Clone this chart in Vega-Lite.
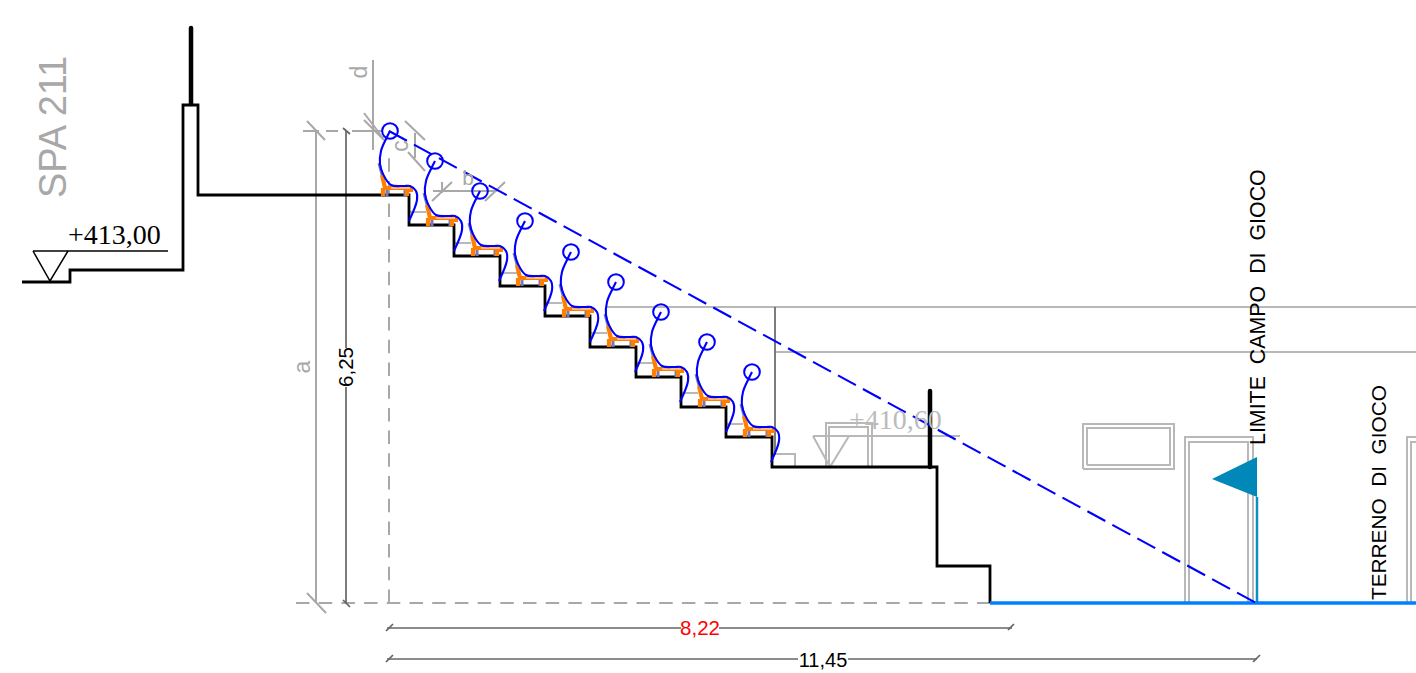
{
"$schema":"https://vega.github.io/schema/vega-lite/v6.json",
"width":1416,"height":673,"padding":0,
"autosize":{"type":"none"},
"background":"white",
"config":{"view":{"stroke":null}},
"datasets":{
"structure":[
{"s":"t","i":0,"x":-367,"y":321},{"s":"t","i":1,"x":-319,"y":321},{"s":"t","i":2,"x":-319,"y":333},{"s":"t","i":3,"x":-206,"y":333},{"s":"t","i":4,"x":-206,"y":498},{"s":"t","i":5,"x":-191,"y":498},{"s":"t","i":6,"x":-191,"y":408},{"s":"t","i":7,"x":20,"y":408},{"s":"t","i":8,"x":20,"y":378},{"s":"t","i":9,"x":65,"y":378},{"s":"t","i":10,"x":65,"y":347},{"s":"t","i":11,"x":111,"y":347},{"s":"t","i":12,"x":111,"y":317},{"s":"t","i":13,"x":156,"y":317},{"s":"t","i":14,"x":156,"y":287},{"s":"t","i":15,"x":201,"y":287},{"s":"t","i":16,"x":201,"y":256},{"s":"t","i":17,"x":247,"y":256},{"s":"t","i":18,"x":247,"y":226},{"s":"t","i":19,"x":292,"y":226},{"s":"t","i":20,"x":292,"y":196},{"s":"t","i":21,"x":337,"y":196},{"s":"t","i":22,"x":337,"y":166},{"s":"t","i":23,"x":383,"y":166},{"s":"t","i":24,"x":383,"y":136},{"s":"t","i":25,"x":548,"y":136},{"s":"t","i":26,"x":548,"y":37},{"s":"t","i":27,"x":601,"y":37},{"s":"t","i":28,"x":601,"y":0}
],
"level413":[
{"s":"l","i":0,"x":-356,"y":352},{"s":"l","i":1,"x":-221,"y":352},
{"s":"v","i":0,"x":-356,"y":352},{"s":"v","i":1,"x":-339,"y":322},{"s":"v","i":2,"x":-321,"y":352}
],
"posts":[
{"s":"a","i":0,"x":-198,"y":575},{"s":"a","i":1,"x":-198,"y":499},
{"s":"b","i":0,"x":541,"y":212},{"s":"b","i":1,"x":541,"y":136}
],
"dimGrey":[
{"s":"a","i":0,"x":-73,"y":472},{"s":"a","i":1,"x":-73,"y":0},
{"s":"a1","i":0,"x":-82,"y":482},{"s":"a1","i":1,"x":-64,"y":463},
{"s":"a2","i":0,"x":-82,"y":10},{"s":"a2","i":1,"x":-63,"y":-10},
{"s":"h1","i":0,"x":-86,"y":472},{"s":"h1","i":1,"x":-70,"y":472},
{"s":"h2","i":0,"x":-63,"y":472},{"s":"h2","i":1,"x":-51,"y":472},
{"s":"h3","i":0,"x":-37,"y":472},{"s":"h3","i":1,"x":-6,"y":472},
{"s":"d","i":0,"x":-16,"y":543},{"s":"d","i":1,"x":-16,"y":453},
{"s":"d1","i":0,"x":-25,"y":490},{"s":"d1","i":1,"x":-6,"y":465},
{"s":"d2","i":0,"x":-25,"y":483},{"s":"d2","i":1,"x":-5,"y":463},
{"s":"c1","i":0,"x":16,"y":482},{"s":"c1","i":1,"x":36,"y":463},
{"s":"c2","i":0,"x":19,"y":451},{"s":"c2","i":1,"x":36,"y":432},
{"s":"c","i":0,"x":26,"y":470},{"s":"c","i":1,"x":26,"y":445},
{"s":"b","i":0,"x":44,"y":412},{"s":"b","i":1,"x":108,"y":412},
{"s":"b1","i":0,"x":43,"y":402},{"s":"b1","i":1,"x":63,"y":421},
{"s":"b2","i":0,"x":96,"y":402},{"s":"b2","i":1,"x":116,"y":421},
{"s":"b3","i":0,"x":53,"y":421},{"s":"b3","i":1,"x":53,"y":410}
],
"dimDark":[
{"s":"u","i":0,"x":-43,"y":472},{"s":"u","i":1,"x":-43,"y":255},
{"s":"w","i":0,"x":-43,"y":216},{"s":"w","i":1,"x":-43,"y":0},
{"s":"t1","i":0,"x":-46,"y":3},{"s":"t1","i":1,"x":-39,"y":-4},
{"s":"t2","i":0,"x":-46,"y":475},{"s":"t2","i":1,"x":-39,"y":469},
{"s":"f","i":0,"x":386,"y":296},{"s":"f","i":1,"x":386,"y":148},
{"s":"m","i":0,"x":-2,"y":-25},{"s":"m","i":1,"x":292,"y":-25},
{"s":"mb","i":0,"x":330,"y":-25},{"s":"mb","i":1,"x":623,"y":-25},
{"s":"m1","i":0,"x":-3,"y":-28},{"s":"m1","i":1,"x":4,"y":-21},
{"s":"m2","i":0,"x":619,"y":-27},{"s":"m2","i":1,"x":625,"y":-21},
{"s":"n","i":0,"x":-2,"y":-56},{"s":"n","i":1,"x":409,"y":-56},
{"s":"o","i":0,"x":459,"y":-56},{"s":"o","i":1,"x":868,"y":-56},
{"s":"n1","i":0,"x":-3,"y":-59},{"s":"n1","i":1,"x":4,"y":-52},
{"s":"n2","i":0,"x":864,"y":-59},{"s":"n2","i":1,"x":871,"y":-52}
],
"lightGrey":[
{"s":"y1","i":0,"x":218,"y":296},{"s":"y1","i":1,"x":1027,"y":296},
{"s":"y2","i":0,"x":386,"y":251},{"s":"y2","i":1,"x":1027,"y":251},
{"s":"s1","i":0,"x":20,"y":391},{"s":"s1","i":1,"x":37,"y":391},
{"s":"s2","i":0,"x":65,"y":360},{"s":"s2","i":1,"x":82,"y":360},
{"s":"s3","i":0,"x":111,"y":330},{"s":"s3","i":1,"x":128,"y":330},
{"s":"s4","i":0,"x":156,"y":300},{"s":"s4","i":1,"x":173,"y":300},
{"s":"s5","i":0,"x":201,"y":270},{"s":"s5","i":1,"x":218,"y":270},
{"s":"s6","i":0,"x":247,"y":240},{"s":"s6","i":1,"x":264,"y":240},
{"s":"s7","i":0,"x":292,"y":210},{"s":"s7","i":1,"x":309,"y":210},
{"s":"s8","i":0,"x":337,"y":179},{"s":"s8","i":1,"x":354,"y":179},
{"s":"s9","i":0,"x":383,"y":149},{"s":"s9","i":1,"x":406,"y":149},{"s":"s9","i":2,"x":406,"y":136},
{"s":"lv","i":0,"x":424,"y":167},{"s":"lv","i":1,"x":571,"y":167},
{"s":"tr","i":0,"x":424,"y":167},{"s":"tr","i":1,"x":441,"y":136},{"s":"tr","i":2,"x":460,"y":167},
{"s":"da","i":0,"x":437,"y":136},{"s":"da","i":1,"x":437,"y":180},{"s":"da","i":2,"x":483,"y":180},{"s":"da","i":3,"x":483,"y":136},
{"s":"db","i":0,"x":440,"y":136},{"s":"db","i":1,"x":440,"y":176},{"s":"db","i":2,"x":479,"y":176},{"s":"db","i":3,"x":479,"y":136},
{"s":"wa","i":0,"x":694,"y":134},{"s":"wa","i":1,"x":694,"y":179},{"s":"wa","i":2,"x":785,"y":179},{"s":"wa","i":3,"x":785,"y":134},{"s":"wa","i":4,"x":694,"y":134},
{"s":"wb","i":0,"x":698,"y":138},{"s":"wb","i":1,"x":698,"y":175},{"s":"wb","i":2,"x":781,"y":175},{"s":"wb","i":3,"x":781,"y":138},{"s":"wb","i":4,"x":698,"y":138},
{"s":"pa","i":0,"x":796,"y":0},{"s":"pa","i":1,"x":796,"y":166},{"s":"pa","i":2,"x":864,"y":166},{"s":"pa","i":3,"x":864,"y":0},
{"s":"pb","i":0,"x":800,"y":0},{"s":"pb","i":1,"x":800,"y":161},{"s":"pb","i":2,"x":859,"y":161},{"s":"pb","i":3,"x":859,"y":0},
{"s":"qa","i":0,"x":1018,"y":0},{"s":"qa","i":1,"x":1018,"y":166},{"s":"qa","i":2,"x":1027,"y":166},
{"s":"qb","i":0,"x":1022,"y":0},{"s":"qb","i":1,"x":1022,"y":161},{"s":"qb","i":2,"x":1027,"y":161}
],
"datum":[
{"s":"h","i":0,"x":-93,"y":0},{"s":"h","i":1,"x":601,"y":0},
{"s":"v","i":0,"x":0,"y":0},{"s":"v","i":1,"x":0,"y":453}
],
"sight":[
{"s":"r","i":0,"x":0,"y":472},{"s":"r","i":1,"x":867,"y":0}
],
"pitch":[
{"s":"p","i":0,"x":601,"y":0},{"s":"p","i":1,"x":1027,"y":0}
],
"pole":[
{"s":"f","i":0,"x":868,"y":0},{"s":"f","i":1,"x":868,"y":106}
],
"flag":[
{"x":823,"y":124,"y2":124},{"x":868,"y":146,"y2":106}
],
"heads":[
{"x":1,"y":472},{"x":46,"y":442},{"x":91,"y":412},{"x":136,"y":382},{"x":182,"y":351},{"x":227,"y":321},{"x":272,"y":291},{"x":318,"y":261},{"x":363,"y":231}
],
"curves":[
{"s":"1","i":0,"x":1,"y":472},{"s":"1","i":1,"x":-3,"y":464},{"s":"1","i":2,"x":-8,"y":452},{"s":"1","i":3,"x":-9,"y":439},{"s":"1","i":4,"x":-6,"y":429},{"s":"1","i":5,"x":2,"y":418},{"s":"1","i":6,"x":15,"y":417},{"s":"1","i":7,"x":21,"y":417},{"s":"1","i":8,"x":27,"y":412},{"s":"1","i":9,"x":28,"y":403},{"s":"1","i":10,"x":20,"y":382},
{"s":"2","i":0,"x":46,"y":442},{"s":"2","i":1,"x":42,"y":434},{"s":"2","i":2,"x":37,"y":422},{"s":"2","i":3,"x":36,"y":409},{"s":"2","i":4,"x":39,"y":399},{"s":"2","i":5,"x":47,"y":388},{"s":"2","i":6,"x":60,"y":387},{"s":"2","i":7,"x":66,"y":387},{"s":"2","i":8,"x":72,"y":382},{"s":"2","i":9,"x":73,"y":373},{"s":"2","i":10,"x":65,"y":352},
{"s":"3","i":0,"x":91,"y":412},{"s":"3","i":1,"x":87,"y":404},{"s":"3","i":2,"x":82,"y":392},{"s":"3","i":3,"x":81,"y":379},{"s":"3","i":4,"x":84,"y":369},{"s":"3","i":5,"x":92,"y":358},{"s":"3","i":6,"x":105,"y":357},{"s":"3","i":7,"x":111,"y":357},{"s":"3","i":8,"x":117,"y":352},{"s":"3","i":9,"x":118,"y":343},{"s":"3","i":10,"x":110,"y":322},
{"s":"4","i":0,"x":136,"y":382},{"s":"4","i":1,"x":132,"y":374},{"s":"4","i":2,"x":127,"y":362},{"s":"4","i":3,"x":126,"y":349},{"s":"4","i":4,"x":129,"y":339},{"s":"4","i":5,"x":137,"y":328},{"s":"4","i":6,"x":150,"y":327},{"s":"4","i":7,"x":156,"y":327},{"s":"4","i":8,"x":162,"y":322},{"s":"4","i":9,"x":163,"y":313},{"s":"4","i":10,"x":155,"y":292},
{"s":"5","i":0,"x":182,"y":351},{"s":"5","i":1,"x":178,"y":343},{"s":"5","i":2,"x":173,"y":331},{"s":"5","i":3,"x":172,"y":318},{"s":"5","i":4,"x":175,"y":308},{"s":"5","i":5,"x":183,"y":297},{"s":"5","i":6,"x":196,"y":296},{"s":"5","i":7,"x":202,"y":296},{"s":"5","i":8,"x":208,"y":291},{"s":"5","i":9,"x":209,"y":282},{"s":"5","i":10,"x":201,"y":261},
{"s":"6","i":0,"x":227,"y":321},{"s":"6","i":1,"x":223,"y":313},{"s":"6","i":2,"x":218,"y":301},{"s":"6","i":3,"x":217,"y":288},{"s":"6","i":4,"x":220,"y":278},{"s":"6","i":5,"x":228,"y":267},{"s":"6","i":6,"x":241,"y":266},{"s":"6","i":7,"x":247,"y":266},{"s":"6","i":8,"x":253,"y":261},{"s":"6","i":9,"x":254,"y":252},{"s":"6","i":10,"x":246,"y":231},
{"s":"7","i":0,"x":272,"y":291},{"s":"7","i":1,"x":268,"y":283},{"s":"7","i":2,"x":263,"y":271},{"s":"7","i":3,"x":262,"y":258},{"s":"7","i":4,"x":265,"y":248},{"s":"7","i":5,"x":273,"y":237},{"s":"7","i":6,"x":286,"y":236},{"s":"7","i":7,"x":292,"y":236},{"s":"7","i":8,"x":298,"y":231},{"s":"7","i":9,"x":299,"y":222},{"s":"7","i":10,"x":291,"y":201},
{"s":"8","i":0,"x":318,"y":261},{"s":"8","i":1,"x":314,"y":253},{"s":"8","i":2,"x":309,"y":241},{"s":"8","i":3,"x":308,"y":228},{"s":"8","i":4,"x":311,"y":218},{"s":"8","i":5,"x":319,"y":207},{"s":"8","i":6,"x":332,"y":206},{"s":"8","i":7,"x":338,"y":206},{"s":"8","i":8,"x":344,"y":201},{"s":"8","i":9,"x":345,"y":192},{"s":"8","i":10,"x":337,"y":171},
{"s":"9","i":0,"x":363,"y":231},{"s":"9","i":1,"x":359,"y":223},{"s":"9","i":2,"x":354,"y":211},{"s":"9","i":3,"x":353,"y":198},{"s":"9","i":4,"x":356,"y":188},{"s":"9","i":5,"x":364,"y":177},{"s":"9","i":6,"x":377,"y":176},{"s":"9","i":7,"x":383,"y":176},{"s":"9","i":8,"x":389,"y":171},{"s":"9","i":9,"x":390,"y":162},{"s":"9","i":10,"x":382,"y":141}
],
"seatOrange":[
{"s":"1b","i":0,"x":-7,"y":428},{"s":"1b","i":1,"x":-4,"y":415},{"s":"1b","i":2,"x":22,"y":415},{"s":"1l","i":0,"x":-6,"y":415},{"s":"1l","i":1,"x":-6,"y":407},{"s":"1m","i":0,"x":18,"y":415},{"s":"1m","i":1,"x":18,"y":407},{"s":"1n","i":0,"x":22,"y":415},{"s":"1n","i":1,"x":22,"y":411},
{"s":"2b","i":0,"x":38,"y":398},{"s":"2b","i":1,"x":41,"y":385},{"s":"2b","i":2,"x":67,"y":385},{"s":"2l","i":0,"x":39,"y":385},{"s":"2l","i":1,"x":39,"y":377},{"s":"2m","i":0,"x":63,"y":385},{"s":"2m","i":1,"x":63,"y":377},{"s":"2n","i":0,"x":67,"y":385},{"s":"2n","i":1,"x":67,"y":381},
{"s":"3b","i":0,"x":83,"y":368},{"s":"3b","i":1,"x":86,"y":355},{"s":"3b","i":2,"x":112,"y":355},{"s":"3l","i":0,"x":84,"y":355},{"s":"3l","i":1,"x":84,"y":347},{"s":"3m","i":0,"x":108,"y":355},{"s":"3m","i":1,"x":108,"y":347},{"s":"3n","i":0,"x":112,"y":355},{"s":"3n","i":1,"x":112,"y":351},
{"s":"4b","i":0,"x":128,"y":338},{"s":"4b","i":1,"x":131,"y":325},{"s":"4b","i":2,"x":157,"y":325},{"s":"4l","i":0,"x":129,"y":325},{"s":"4l","i":1,"x":129,"y":317},{"s":"4m","i":0,"x":153,"y":325},{"s":"4m","i":1,"x":153,"y":317},{"s":"4n","i":0,"x":157,"y":325},{"s":"4n","i":1,"x":157,"y":321},
{"s":"5b","i":0,"x":174,"y":307},{"s":"5b","i":1,"x":177,"y":294},{"s":"5b","i":2,"x":203,"y":294},{"s":"5l","i":0,"x":175,"y":294},{"s":"5l","i":1,"x":175,"y":286},{"s":"5m","i":0,"x":199,"y":294},{"s":"5m","i":1,"x":199,"y":286},{"s":"5n","i":0,"x":203,"y":294},{"s":"5n","i":1,"x":203,"y":290},
{"s":"6b","i":0,"x":219,"y":277},{"s":"6b","i":1,"x":222,"y":264},{"s":"6b","i":2,"x":248,"y":264},{"s":"6l","i":0,"x":220,"y":264},{"s":"6l","i":1,"x":220,"y":256},{"s":"6m","i":0,"x":244,"y":264},{"s":"6m","i":1,"x":244,"y":256},{"s":"6n","i":0,"x":248,"y":264},{"s":"6n","i":1,"x":248,"y":260},
{"s":"7b","i":0,"x":264,"y":247},{"s":"7b","i":1,"x":267,"y":234},{"s":"7b","i":2,"x":293,"y":234},{"s":"7l","i":0,"x":265,"y":234},{"s":"7l","i":1,"x":265,"y":226},{"s":"7m","i":0,"x":289,"y":234},{"s":"7m","i":1,"x":289,"y":226},{"s":"7n","i":0,"x":293,"y":234},{"s":"7n","i":1,"x":293,"y":230},
{"s":"8b","i":0,"x":310,"y":217},{"s":"8b","i":1,"x":313,"y":204},{"s":"8b","i":2,"x":339,"y":204},{"s":"8l","i":0,"x":311,"y":204},{"s":"8l","i":1,"x":311,"y":196},{"s":"8m","i":0,"x":335,"y":204},{"s":"8m","i":1,"x":335,"y":196},{"s":"8n","i":0,"x":339,"y":204},{"s":"8n","i":1,"x":339,"y":200},
{"s":"9b","i":0,"x":355,"y":187},{"s":"9b","i":1,"x":358,"y":174},{"s":"9b","i":2,"x":384,"y":174},{"s":"9l","i":0,"x":356,"y":174},{"s":"9l","i":1,"x":356,"y":166},{"s":"9m","i":0,"x":380,"y":174},{"s":"9m","i":1,"x":380,"y":166},{"s":"9n","i":0,"x":384,"y":174},{"s":"9n","i":1,"x":384,"y":170}
],
"seatPurple":[
{"s":"1b","i":0,"x":-10,"y":440},{"s":"1b","i":1,"x":-6,"y":425},{"s":"1l","i":0,"x":-2,"y":416},{"s":"1l","i":1,"x":-2,"y":407},{"s":"1m","i":0,"x":16,"y":416},{"s":"1m","i":1,"x":16,"y":407},
{"s":"2b","i":0,"x":35,"y":410},{"s":"2b","i":1,"x":39,"y":395},{"s":"2l","i":0,"x":43,"y":386},{"s":"2l","i":1,"x":43,"y":377},{"s":"2m","i":0,"x":61,"y":386},{"s":"2m","i":1,"x":61,"y":377},
{"s":"3b","i":0,"x":80,"y":380},{"s":"3b","i":1,"x":84,"y":365},{"s":"3l","i":0,"x":88,"y":356},{"s":"3l","i":1,"x":88,"y":347},{"s":"3m","i":0,"x":106,"y":356},{"s":"3m","i":1,"x":106,"y":347},
{"s":"4b","i":0,"x":125,"y":350},{"s":"4b","i":1,"x":129,"y":335},{"s":"4l","i":0,"x":133,"y":326},{"s":"4l","i":1,"x":133,"y":317},{"s":"4m","i":0,"x":151,"y":326},{"s":"4m","i":1,"x":151,"y":317},
{"s":"5b","i":0,"x":171,"y":319},{"s":"5b","i":1,"x":175,"y":304},{"s":"5l","i":0,"x":179,"y":295},{"s":"5l","i":1,"x":179,"y":286},{"s":"5m","i":0,"x":197,"y":295},{"s":"5m","i":1,"x":197,"y":286},
{"s":"6b","i":0,"x":216,"y":289},{"s":"6b","i":1,"x":220,"y":274},{"s":"6l","i":0,"x":224,"y":265},{"s":"6l","i":1,"x":224,"y":256},{"s":"6m","i":0,"x":242,"y":265},{"s":"6m","i":1,"x":242,"y":256},
{"s":"7b","i":0,"x":261,"y":259},{"s":"7b","i":1,"x":265,"y":244},{"s":"7l","i":0,"x":269,"y":235},{"s":"7l","i":1,"x":269,"y":226},{"s":"7m","i":0,"x":287,"y":235},{"s":"7m","i":1,"x":287,"y":226},
{"s":"8b","i":0,"x":307,"y":229},{"s":"8b","i":1,"x":311,"y":214},{"s":"8l","i":0,"x":315,"y":205},{"s":"8l","i":1,"x":315,"y":196},{"s":"8m","i":0,"x":333,"y":205},{"s":"8m","i":1,"x":333,"y":196},
{"s":"9b","i":0,"x":352,"y":199},{"s":"9b","i":1,"x":356,"y":184},{"s":"9l","i":0,"x":360,"y":175},{"s":"9l","i":1,"x":360,"y":166},{"s":"9m","i":0,"x":378,"y":175},{"s":"9m","i":1,"x":378,"y":166}
],
"seatWhite":[
{"s":"1","i":0,"x":2,"y":415},{"s":"1","i":1,"x":21,"y":415},
{"s":"2","i":0,"x":47,"y":385},{"s":"2","i":1,"x":66,"y":385},
{"s":"3","i":0,"x":92,"y":355},{"s":"3","i":1,"x":111,"y":355},
{"s":"4","i":0,"x":137,"y":325},{"s":"4","i":1,"x":156,"y":325},
{"s":"5","i":0,"x":183,"y":294},{"s":"5","i":1,"x":202,"y":294},
{"s":"6","i":0,"x":228,"y":264},{"s":"6","i":1,"x":247,"y":264},
{"s":"7","i":0,"x":273,"y":234},{"s":"7","i":1,"x":292,"y":234},
{"s":"8","i":0,"x":319,"y":204},{"s":"8","i":1,"x":338,"y":204},
{"s":"9","i":0,"x":364,"y":174},{"s":"9","i":1,"x":383,"y":174}
]
},
"encoding":{
"x":{"field":"x","type":"quantitative","axis":null,"scale":{"domain":[-389,1027],"nice":false,"zero":false}},
"y":{"field":"y","type":"quantitative","axis":null,"scale":{"domain":[-70,603],"nice":false,"zero":false}}
},
"layer":[
{"data":{"name":"lightGrey"},"mark":{"type":"line","color":"#b8b8b8","strokeWidth":2},"encoding":{"detail":{"field":"s"},"order":{"field":"i","type":"quantitative"}}},
{"data":{"name":"dimGrey"},"mark":{"type":"line","color":"#a8a8a8","strokeWidth":2},"encoding":{"detail":{"field":"s"},"order":{"field":"i","type":"quantitative"}}},
{"data":{"name":"datum"},"mark":{"type":"line","color":"#a8a8a8","strokeWidth":2,"strokeDash":[13.5,9.2]},"encoding":{"detail":{"field":"s"},"order":{"field":"i","type":"quantitative"}}},
{"data":{"name":"dimDark"},"mark":{"type":"line","color":"#666666","strokeWidth":1.7},"encoding":{"detail":{"field":"s"},"order":{"field":"i","type":"quantitative"}}},
{"data":{"name":"level413"},"mark":{"type":"line","color":"#000000","strokeWidth":1.5},"encoding":{"detail":{"field":"s"},"order":{"field":"i","type":"quantitative"}}},
{"data":{"name":"structure"},"mark":{"type":"line","color":"#000000","strokeWidth":2.8,"strokeJoin":"miter"},"encoding":{"detail":{"field":"s"},"order":{"field":"i","type":"quantitative"}}},
{"data":{"name":"posts"},"mark":{"type":"line","color":"#000000","strokeWidth":4.5,"strokeCap":"round"},"encoding":{"detail":{"field":"s"},"order":{"field":"i","type":"quantitative"}}},
{"data":{"name":"pole"},"mark":{"type":"line","color":"#0f8fc0","strokeWidth":2.5},"encoding":{"detail":{"field":"s"},"order":{"field":"i","type":"quantitative"}}},
{"data":{"name":"flag"},"mark":{"type":"area","color":"#0088b8","opacity":1},"encoding":{"y2":{"field":"y2"}}},
{"data":{"name":"pitch"},"mark":{"type":"line","color":"#0080ff","strokeWidth":3.5},"encoding":{"detail":{"field":"s"},"order":{"field":"i","type":"quantitative"}}},
{"data":{"name":"seatPurple"},"mark":{"type":"line","color":"#7878b8","strokeWidth":3},"encoding":{"detail":{"field":"s"},"order":{"field":"i","type":"quantitative"}}},
{"data":{"name":"seatOrange"},"mark":{"type":"line","color":"#ff8000","strokeWidth":4.2},"encoding":{"detail":{"field":"s"},"order":{"field":"i","type":"quantitative"}}},
{"data":{"name":"seatWhite"},"mark":{"type":"line","color":"#ffffff","strokeWidth":0.9},"encoding":{"detail":{"field":"s"},"order":{"field":"i","type":"quantitative"}}},
{"data":{"name":"curves"},"mark":{"type":"line","color":"#0000ff","strokeWidth":2.1,"interpolate":"catmull-rom"},"encoding":{"detail":{"field":"s"},"order":{"field":"i","type":"quantitative"}}},
{"data":{"name":"sight"},"mark":{"type":"line","color":"#0000ff","strokeWidth":2.1,"strokeDash":[20.4,8]},"encoding":{"detail":{"field":"s"},"order":{"field":"i","type":"quantitative"}}},
{"data":{"name":"heads"},"mark":{"type":"point","shape":"circle","filled":false,"color":"#0000ff","strokeWidth":2,"size":246,"opacity":1}},
{"data":{"values":[{"t":"SPA 211","x":-323,"y":405}]},"mark":{"type":"text","font":"Liberation Sans","fontSize":38,"angle":270,"align":"left","baseline":"alphabetic","color":"#a8a8a8"},"encoding":{"text":{"field":"t"}}},
{"data":{"values":[{"t":"+413,00","x":-321,"y":359}]},"mark":{"type":"text","font":"Liberation Serif","fontSize":28,"align":"left","baseline":"alphabetic","color":"#000000"},"encoding":{"text":{"field":"t"}}},
{"data":{"values":[{"t":"+410,60","x":460,"y":174}]},"mark":{"type":"text","font":"Liberation Serif","fontSize":28,"align":"left","baseline":"alphabetic","color":"#bbbbbb"},"encoding":{"text":{"field":"t"}}},
{"data":{"values":[{"t":"a","x":-79,"y":236},{"t":"d","x":-22,"y":531},{"t":"c","x":19,"y":457}]},"mark":{"type":"text","font":"Liberation Sans","fontSize":23,"angle":270,"align":"center","baseline":"alphabetic","color":"#a8a8a8"},"encoding":{"text":{"field":"t"}}},
{"data":{"values":[{"t":"b","x":79,"y":418}]},"mark":{"type":"text","font":"Liberation Sans","fontSize":21,"align":"center","baseline":"alphabetic","color":"#a8a8a8"},"encoding":{"text":{"field":"t"}}},
{"data":{"values":[{"t":"6,25","x":-36,"y":236}]},"mark":{"type":"text","font":"Liberation Sans","fontSize":20.5,"angle":270,"align":"center","baseline":"alphabetic","color":"#000000"},"encoding":{"text":{"field":"t"}}},
{"data":{"values":[{"t":"8,22","x":311,"y":-32}]},"mark":{"type":"text","font":"Liberation Sans","fontSize":20.5,"align":"center","baseline":"alphabetic","color":"#ff0000"},"encoding":{"text":{"field":"t"}}},
{"data":{"values":[{"t":"11,45","x":434,"y":-64}]},"mark":{"type":"text","font":"Liberation Sans","fontSize":20,"align":"center","baseline":"alphabetic","color":"#000000"},"encoding":{"text":{"field":"t"}}},
{"data":{"values":[{"t":"LIMITE\u00a0\u00a0CAMPO\u00a0\u00a0DI\u00a0\u00a0GIOCO","x":876,"y":158}]},"mark":{"type":"text","font":"Liberation Sans","fontSize":21.4,"angle":270,"align":"left","baseline":"alphabetic","color":"#000000"},"encoding":{"text":{"field":"t"}}},
{"data":{"values":[{"t":"TERRENO\u00a0\u00a0DI\u00a0\u00a0GIOCO","x":997,"y":3}]},"mark":{"type":"text","font":"Liberation Sans","fontSize":20.8,"angle":270,"align":"left","baseline":"alphabetic","color":"#000000"},"encoding":{"text":{"field":"t"}}}
]
}
